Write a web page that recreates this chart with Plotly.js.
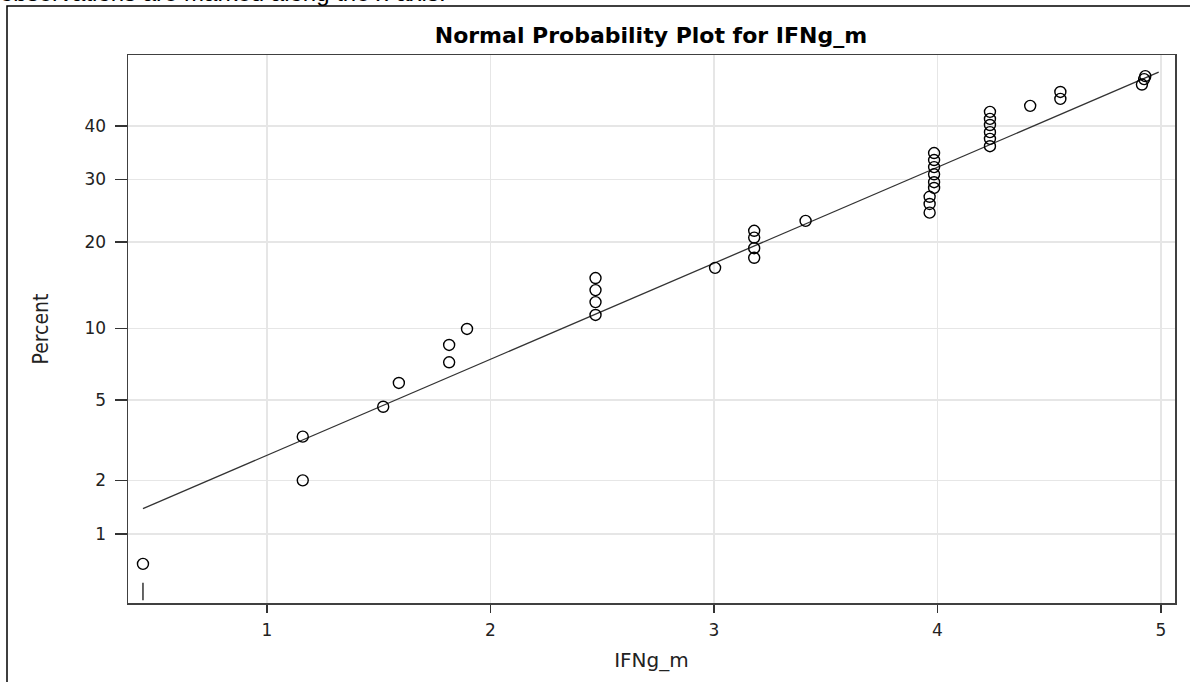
<!DOCTYPE html>
<html>
<head>
<meta charset="utf-8">
<script src="https://cdn.plot.ly/plotly-3.0.1.min.js"></script>
<style>html,body{margin:0;padding:0;background:#fff;}#chart{width:1190px;height:682px;}</style>
</head>
<body>
<div id="chart"></div>
<script>
// ---- data ----
const ifngValues = [0.445, 1.16, 1.16, 1.52, 1.59, 1.815, 1.815, 1.895,
  2.47, 2.47, 2.47, 2.47, 3.005, 3.18, 3.18, 3.18, 3.18, 3.41,
  3.965, 3.965, 3.965, 3.985, 3.985, 3.985, 3.985, 3.985, 3.985,
  4.235, 4.235, 4.235, 4.235, 4.235, 4.235, 4.415, 4.55, 4.55,
  4.915, 4.925, 4.93];
const percentValues = [0.66, 2.0, 3.35, 4.65, 5.95, 7.3, 8.6, 9.95,
  11.25, 12.55, 13.85, 15.25, 16.5, 17.8, 19.1, 20.6, 21.6, 23.1,
  24.4, 25.8, 27.0, 28.5, 29.5, 30.9, 32.2, 33.5, 34.8,
  36.1, 37.5, 38.8, 40.2, 41.4, 42.8, 44.0, 45.4, 46.8,
  48.3, 49.4, 50.0];
const fitLineX = [0.445, 4.99];
const fitLinePercent = [1.40, 50.8];
const rugX = [0.445];
const yTickPercents = [1, 2, 5, 10, 20, 30, 40];
const yTickLabels = ['1', '2', '5', '10', '20', '30', '40'];
const xTickVals = [1, 2, 3, 4, 5];
const xTickLabels = ['1', '2', '3', '4', '5'];
const yRangePercent = [0.3715, 54.28];
const xRange = [0.378, 5.063];

// inverse standard normal CDF (Acklam)
function normInv(p) {
  const a = [-3.969683028665376e+01, 2.209460984245205e+02, -2.759285104469687e+02, 1.383577518672690e+02, -3.066479806614716e+01, 2.506628277459239e+00];
  const b = [-5.447609879822406e+01, 1.615858368580409e+02, -1.556989798598866e+02, 6.680131188771972e+01, -1.328068155288572e+01];
  const c = [-7.784894002430293e-03, -3.223964580411365e-01, -2.400758277161838e+00, -2.549732539343734e+00, 4.374664141464968e+00, 2.938163982698783e+00];
  const d = [7.784695709041462e-03, 3.224671290700398e-01, 2.445134137142996e+00, 3.754408661907416e+00];
  const pl = 0.02425, ph = 1 - pl;
  let q, r;
  if (p < pl) {
    q = Math.sqrt(-2 * Math.log(p));
    return (((((c[0]*q+c[1])*q+c[2])*q+c[3])*q+c[4])*q+c[5]) / ((((d[0]*q+d[1])*q+d[2])*q+d[3])*q+1);
  } else if (p <= ph) {
    q = p - 0.5; r = q*q;
    return (((((a[0]*r+a[1])*r+a[2])*r+a[3])*r+a[4])*r+a[5])*q / (((((b[0]*r+b[1])*r+b[2])*r+b[3])*r+b[4])*r+1);
  } else {
    q = Math.sqrt(-2 * Math.log(1 - p));
    return -(((((c[0]*q+c[1])*q+c[2])*q+c[3])*q+c[4])*q+c[5]) / ((((d[0]*q+d[1])*q+d[2])*q+d[3])*q+1);
  }
}
const toZ = pct => normInv(pct / 100);

const font = "'DejaVu Sans', 'Liberation Sans', Arial, sans-serif";
const narrow = "'Liberation Sans Narrow', 'DejaVu Sans Condensed', 'Arial Narrow', sans-serif";

const traces = [
  {
    type: 'scatter', mode: 'lines',
    x: fitLineX, y: fitLinePercent.map(toZ),
    line: {color: '#333333', width: 1.3},
    hoverinfo: 'skip', showlegend: false
  },
  {
    type: 'scatter', mode: 'markers',
    x: ifngValues, y: percentValues.map(toZ),
    marker: {symbol: 'circle-open', size: 11, color: '#000000', line: {width: 1.4, color: '#000000'}},
    showlegend: false
  }
];

const shapes = [];
// rug marks for observations along the x axis
rugX.forEach(v => shapes.push({
  type: 'line', xref: 'x', yref: 'paper', x0: v, x1: v, y0: 0.005, y1: 0.037,
  line: {color: '#333333', width: 1.5}
}));
// outer frame of the original figure (partially outside the window)
shapes.push({
  type: 'rect', xref: 'paper', yref: 'paper',
  x0: (7 - 128) / 1047, x1: (1200 - 128) / 1047,
  y0: (603 - 700) / 548, y1: (603 - 6) / 548,
  line: {color: '#000000', width: 1.5}, layer: 'below'
});

const layout = {
  width: 1190, height: 682,
  margin: {l: 128, r: 15, t: 55, b: 79},
  paper_bgcolor: '#ffffff', plot_bgcolor: '#ffffff',
  showlegend: false,
  title: {
    text: 'Normal Probability Plot for IFNg_m',
    font: {family: font, size: 22, color: '#000000', weight: 'bold'},
    x: 0.547, xanchor: 'center', xref: 'container',
    y: 1 - 35 / 682, yanchor: 'middle', yref: 'container'
  },
  xaxis: {
    range: xRange, tickvals: xTickVals, ticktext: xTickLabels,
    showgrid: true, gridcolor: '#e6e6e6', gridwidth: 1.5,
    zeroline: false, showline: true, linecolor: '#404040', linewidth: 1.5, mirror: true,
    ticks: 'outside', ticklen: 8, tickwidth: 1.5, tickcolor: '#333333',
    ticklabelstandoff: 3,
    tickfont: {family: font, size: 17, color: '#222222'},
    title: {text: 'IFNg_m', font: {family: font, size: 20, color: '#222222'}, standoff: 14}
  },
  yaxis: {
    range: yRangePercent.map(toZ),
    tickvals: yTickPercents.map(toZ), ticktext: yTickLabels,
    showgrid: true, gridcolor: '#e6e6e6', gridwidth: 1.5,
    zeroline: false, showline: true, linecolor: '#404040', linewidth: 1.5, mirror: true,
    ticks: 'outside', ticklen: 12, tickwidth: 1.5, tickcolor: '#333333',
    ticklabelstandoff: 5,
    tickfont: {family: font, size: 17, color: '#222222'},
    title: {text: 'Percent', font: {family: narrow, size: 21, color: '#222222'}, standoff: 30}
  },
  shapes: shapes,
  annotations: [{
    text: 'observations are marked along the x-axis.',
    xref: 'paper', yref: 'paper',
    x: (-2 - 128) / 1047, xanchor: 'left',
    y: (603 - 8) / 548, yanchor: 'bottom',
    showarrow: false,
    font: {family: "'Liberation Sans', Arial, sans-serif", size: 24, color: '#000000'}
  }]
};

Plotly.newPlot('chart', traces, layout, {displayModeBar: false, staticPlot: true});
</script>
</body>
</html>
